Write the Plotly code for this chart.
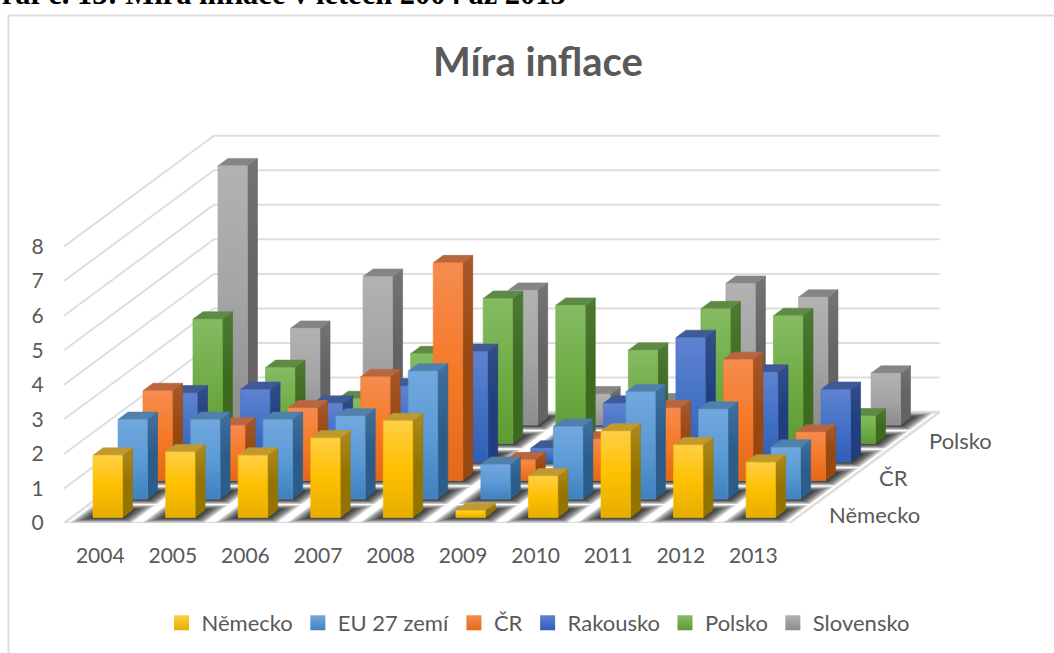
import plotly.graph_objects as go

# inflation by year
years = [2004, 2005, 2006, 2007, 2008, 2009, 2010, 2011, 2012, 2013]
nemecko = [1.8, 1.9, 1.8, 2.3, 2.8, 0.2, 1.2, 2.5, 2.1, 1.6]
eu27 = [2.3, 2.3, 2.3, 2.4, 3.7, 1.0, 2.1, 3.1, 2.6, 1.5]
cr = [2.6, 1.6, 2.1, 3.0, 6.3, 0.6, 1.2, 2.1, 3.5, 1.4]
rakousko = [2.0, 2.1, 1.7, 2.2, 3.2, 0.4, 1.7, 3.6, 2.6, 2.1]
polsko = [3.6, 2.2, 1.3, 2.6, 4.2, 4.0, 2.7, 3.9, 3.7, 0.8]
slovensko = [7.5, 2.8, 4.3, 1.9, 3.9, 0.9, 0.7, 4.1, 3.7, 1.5]

series_names = ["Německo", "EU 27 zemí", "ČR", "Rakousko", "Polsko", "Slovensko"]
series_values = [nemecko, eu27, cr, rakousko, polsko, slovensko]
y_ticks = [0, 1, 2, 3, 4, 5, 6, 7, 8]
depth_labels = {0: "Německo", 2: "ČR", 4: "Polsko"}

# front gradient (bottom, middle, top), side gradient (bottom, top), top face
palette = [
    (("#E6AD00", "#FFC000", "#FFCF45"), ("#947400", "#AD8A1E"), "#BF9A30"),
    (("#3F80C0", "#5B9BD5", "#72A8DE"), ("#2C5C8A", "#40709E"), "#5080AC"),
    (("#E2691A", "#F57A28", "#F58C50"), ("#96480F", "#A8582C"), "#B8663E"),
    (("#2F5EB8", "#4472C4", "#5F82D0"), ("#203E80", "#344F88"), "#3F5A96"),
    (("#5F9B35", "#70AD47", "#85BB62"), ("#3E6A20", "#4E7A35"), "#5E8A45"),
    (("#8C8C8C", "#A5A5A5", "#B2B2B2"), ("#636363", "#747474"), "#858585"),
]

GRID = "#DEDEDE"
TEXT = "#595959"
FONT = "Lato"

# oblique projection, px per unit of the two axes
PX_X = 72.6
PX_Y = 34.6
DX = 25 / PX_X  # shift of one row into the depth
DY = 18.5 / PX_Y
BAR_W = 29.5 / PX_X
BAR_D = 0.4  # bar depth as a part of the row
N = len(years)
ROWS = len(series_names)


def project(i, r, v=0.0):
    return i + r * DX, v + r * DY


def poly(points):
    return [p[0] for p in points] + [points[0][0]], [p[1] for p in points] + [points[0][1]]


def face(points, color, name, gradient=None):
    x, y = poly(points)
    kw = dict(fillcolor=color)
    if gradient:
        stops = [k / (len(gradient) - 1) for k in range(len(gradient))]
        kw = dict(fillgradient=dict(type="vertical", colorscale=list(zip(stops, gradient))))
    return go.Scatter(x=x, y=y, mode="lines", fill="toself", line=dict(width=0.6, color=gradient[1] if gradient else color),
                      name=name, showlegend=False, hoverinfo="skip", cliponaxis=False, **kw)


fig = go.Figure()

# walls
for k in y_ticks[1:]:
    xs = [project(0, 0, k)[0], project(0, ROWS, k)[0], project(N, ROWS, k)[0]]
    ys = [project(0, 0, k)[1], project(0, ROWS, k)[1], project(N, ROWS, k)[1]]
    fig.add_trace(go.Scatter(x=xs, y=ys, mode="lines", line=dict(color=GRID, width=2),
                             showlegend=False, hoverinfo="skip", cliponaxis=False))

# floor
x, y = poly([project(0, 0), project(N, 0), project(N, ROWS), project(0, ROWS)])
fig.add_trace(go.Scatter(x=x, y=y, mode="lines", fill="toself", fillcolor="white",
                         line=dict(color=GRID, width=2.5), showlegend=False, hoverinfo="skip", cliponaxis=False))

# soft shadows round the foot of each bar, nested polygons
for level in range(9):
    grow = 1 + (8 - level) * 1.9
    sx, sy = [], []
    for r in range(ROWS):
        for i in range(N):
            x0 = i + (1 - BAR_W) / 2 - grow / PX_X
            x1 = i + (1 + BAR_W) / 2 + grow / PX_X
            r0 = r + (1 - BAR_D) / 2 - grow / 60
            r1 = r + (1 + BAR_D) / 2 + grow / 60
            x, y = poly([project(x0, r0), project(x1, r0), project(x1, r1), project(x0, r1)])
            sx += x + [None]
            sy += y + [None]
    fig.add_trace(go.Scatter(x=sx, y=sy, mode="lines", fill="toself", fillcolor="rgba(0,0,0,0.15)",
                             line=dict(width=0), showlegend=False, hoverinfo="skip", cliponaxis=False))

# bars, back row first
for r in reversed(range(ROWS)):
    front_c, side_c, top_c = palette[r]
    name = series_names[r]
    for i in range(N):
        v = series_values[r][i]
        x0 = i + (1 - BAR_W) / 2
        x1 = x0 + BAR_W
        r0 = r + (1 - BAR_D) / 2
        r1 = r0 + BAR_D
        fig.add_trace(face([project(x1, r0), project(x1, r1), project(x1, r1, v), project(x1, r0, v)], side_c[0], name, (side_c[0], side_c[0], side_c[1])))
        fig.add_trace(face([project(x0, r0, v), project(x1, r0, v), project(x1, r1, v), project(x0, r1, v)], top_c, name))
        fig.add_trace(face([project(x0, r0), project(x1, r0), project(x1, r0, v), project(x0, r0, v)], front_c[1], name, front_c))

# legend entries
for r, name in enumerate(series_names):
    fig.add_trace(go.Scatter(x=[None], y=[None], mode="markers", name=name,
                             marker=dict(symbol="square", size=15, color=palette[r][0][2], line_width=0,
                                         gradient=dict(type="vertical", color=palette[r][0][0]))))

# depth axis labels
for r, text in depth_labels.items():
    ax, ay = project(N, r + 0.5)
    fig.add_annotation(x=ax, y=ay, text=text, showarrow=False, xanchor="left", yanchor="middle", xshift=25, yshift=-1,
                       font=dict(family=FONT, size=22, color=TEXT))

W, H = 1054, 653
L, B = 64, 130
X_MAX, Y_MAX = 12.1, 11.4
plot_w = X_MAX * PX_X
plot_h = Y_MAX * PX_Y


def paper_x(px):
    return (px - L) / plot_w


def paper_y(py):
    return (H - B - py) / plot_h


# caption of the document page, cut by the top and left edge of the picture
fig.add_annotation(xref="paper", yref="paper", x=paper_x(568), y=paper_y(7), text="<b>Graf č. 13: Míra inflace v letech 2004 až 2013</b>",
                   showarrow=False, xanchor="right", yanchor="bottom", yshift=-5,
                   font=dict(family="Liberation Serif", size=30.5, color="black"))

# chart frame
fig.add_shape(type="rect", xref="paper", yref="paper", x0=paper_x(8.5), x1=paper_x(1060), y0=paper_y(15), y1=paper_y(670),
              line=dict(color=GRID, width=2), fillcolor="rgba(0,0,0,0)", layer="below")

fig.update_layout(
    width=W, height=H,
    margin=dict(l=L, r=W - L - plot_w, b=B, t=H - B - plot_h, pad=0),
    paper_bgcolor="white",
    plot_bgcolor="rgba(0,0,0,0)",
    font=dict(family=FONT, size=21, color=TEXT),
    title=dict(text="Míra inflace", x=538 / W, xanchor="center", y=1 - 62 / H, yanchor="middle",
               font=dict(family=FONT, size=40, color=TEXT, weight=700)),
    legend=dict(orientation="h", xref="container", yref="container", x=538 / W, xanchor="center", y=1 - 623 / H,
                yanchor="middle", font=dict(family=FONT, size=22, color=TEXT)),
    hovermode=False,
)
fig.update_xaxes(range=[0, X_MAX], showgrid=False, zeroline=False, showline=False, ticks="outside", ticklen=14,
                 tickcolor="rgba(0,0,0,0)", tickvals=[i + 0.5 for i in range(N)], ticktext=[str(v) for v in years])
fig.update_yaxes(range=[0, Y_MAX], showgrid=False, zeroline=False, showline=False, ticks="outside", ticklen=15,
                 tickcolor="rgba(0,0,0,0)", tickvals=y_ticks, ticktext=[str(v) for v in y_ticks])

# no page margin round the plot, no modebar in the picture
fig.write_html("out.html", config=dict(displayModeBar=False),
               post_script="document.body.style.margin='0';window.dispatchEvent(new Event('resize'));")
